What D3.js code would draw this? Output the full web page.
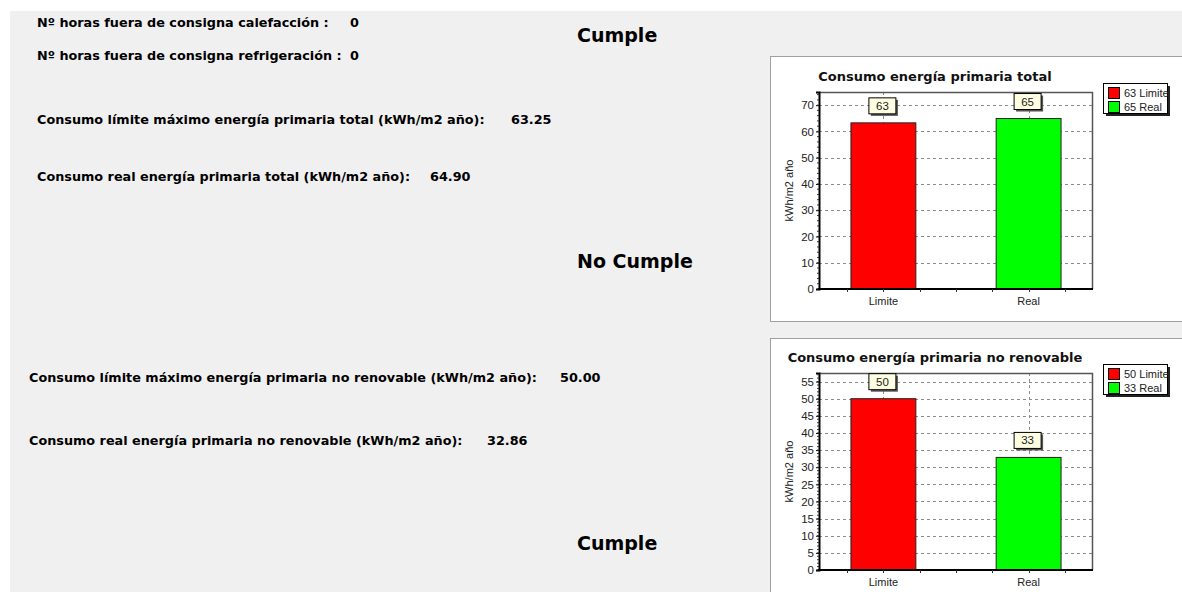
<!DOCTYPE html>
<html>
<head>
<meta charset="utf-8">
<script src="https://cdn.jsdelivr.net/npm/d3@7/dist/d3.min.js"></script>
<style>
  html, body { margin: 0; padding: 0; background: #ffffff; }
  svg { display: block; }
</style>
</head>
<body>
<svg id="page" width="1182" height="592"></svg>
<script>
// ---- data ----
const categories = ["Limite", "Real"];
const barColors = ["#ff0000", "#00ff00"];

const totalTitle = "Consumo energía primaria total";
const totalValues = [63.25, 64.90];
const totalTicks = [0, 10, 20, 30, 40, 50, 60, 70];
const totalMax = 75;

const noRenTitle = "Consumo energía primaria no renovable";
const noRenValues = [50.00, 32.86];
const noRenTicks = [0, 5, 10, 15, 20, 25, 30, 35, 40, 45, 50, 55];
const noRenMax = 57.5;

const hoursLabels = ["Nº horas fuera de consigna calefacción :", "Nº horas fuera de consigna refrigeración :"];
const hoursValues = ["0", "0"];
const totalLabels = ["Consumo límite máximo energía primaria total (kWh/m2 año):", "Consumo real energía primaria total (kWh/m2 año):"];
const noRenLabels = ["Consumo límite máximo energía primaria no renovable (kWh/m2 año):", "Consumo real energía primaria no renovable (kWh/m2 año):"];
const verdicts = ["Cumple", "No Cumple", "Cumple"];
const yAxisTitle = "kWh/m2 año";

// ---- page ----
const svg = d3.select("#page");
const bodyFont = "'DejaVu Sans', Verdana, sans-serif";
const chartFont = "'Liberation Sans', Arial, sans-serif";

svg.append("rect").attr("x", 10).attr("y", 11).attr("width", 1172).attr("height", 581).attr("fill", "#f0f0f0");

function infoText(x, y, str, size) {
  return svg.append("text").attr("x", x).attr("y", y)
    .attr("font-family", bodyFont).attr("font-weight", "bold")
    .attr("font-size", size || 12.8).attr("fill", "#000").text(str);
}

infoText(37, 27, hoursLabels[0]); infoText(350, 27, hoursValues[0]);
infoText(37, 60, hoursLabels[1]); infoText(350, 60, hoursValues[1]);
infoText(37, 124, totalLabels[0]); infoText(511, 124, d3.format(".2f")(totalValues[0]));
infoText(37, 181, totalLabels[1]); infoText(430, 181, d3.format(".2f")(totalValues[1]));
infoText(29, 382, noRenLabels[0]); infoText(560, 382, d3.format(".2f")(noRenValues[0]));
infoText(29, 445, noRenLabels[1]); infoText(487, 445, d3.format(".2f")(noRenValues[1]));

infoText(577, 42, verdicts[0], 19);
infoText(577, 268, verdicts[1], 19);
infoText(577, 550, verdicts[2], 19);

// ---- chart panels ----
function drawChart(opt) {
  const g = svg.append("g");
  g.append("rect").attr("x", opt.panel[0] + 0.5).attr("y", opt.panel[1] + 0.5)
    .attr("width", opt.panel[2]).attr("height", opt.panel[3])
    .attr("fill", "#ffffff").attr("stroke", "#a0a0a0").attr("stroke-width", 1);

  const L = opt.plot[0], T = opt.plot[1], R = opt.plot[2], B = opt.plot[3];
  const x = d3.scaleBand().domain(categories).range([L, R]).paddingInner(0.553).paddingOuter(0.22);
  const y = d3.scaleLinear().domain([0, opt.max]).range([B, T]);

  // title
  g.append("text").attr("x", opt.titleX).attr("y", opt.titleY).attr("text-anchor", "middle")
    .attr("font-family", bodyFont).attr("font-weight", "bold").attr("font-size", 13)
    .attr("fill", "#111").text(opt.title);

  // horizontal grid
  g.append("g").selectAll("line").data(opt.ticks.filter(d => d > 0)).join("line")
    .attr("x1", L).attr("x2", R).attr("y1", d => Math.round(y(d)) + 0.5).attr("y2", d => Math.round(y(d)) + 0.5)
    .attr("stroke", "#8c8c8c").attr("stroke-dasharray", "3,3");
  // vertical grid at categories
  g.append("g").selectAll("line").data(categories).join("line")
    .attr("x1", d => Math.round(x(d) + x.bandwidth() / 2) + 0.5).attr("x2", d => Math.round(x(d) + x.bandwidth() / 2) + 0.5)
    .attr("y1", T).attr("y2", B)
    .attr("stroke", "#8c8c8c").attr("stroke-dasharray", "3,3");

  // bars
  g.append("g").selectAll("rect").data(opt.values).join("rect")
    .attr("x", (d, i) => x(categories[i])).attr("width", x.bandwidth())
    .attr("y", d => y(d)).attr("height", d => B - y(d))
    .attr("fill", (d, i) => barColors[i]).attr("stroke", "#222").attr("stroke-width", 1);

  // frame
  g.append("line").attr("x1", L).attr("x2", R).attr("y1", T + 0.5).attr("y2", T + 0.5).attr("stroke", "#555").attr("stroke-width", 1.5);
  g.append("line").attr("x1", R - 0.5).attr("x2", R - 0.5).attr("y1", T).attr("y2", B).attr("stroke", "#555").attr("stroke-width", 1.5);

  // y axis
  const yAxis = d3.axisLeft(y).tickValues(opt.ticks).tickSize(3).tickPadding(2);
  const ya = g.append("g").attr("transform", `translate(${L},0)`).call(yAxis);
  ya.select(".domain").attr("stroke", "#000").attr("stroke-width", 2);
  ya.selectAll(".tick line").attr("stroke", "#000");
  ya.selectAll(".tick text").attr("font-family", chartFont).attr("font-size", 11.5).attr("fill", "#222");
  // minor y ticks
  const minorStep = (opt.ticks[1] - opt.ticks[0]) / 5;
  g.append("g").selectAll("line").data(d3.range(0, opt.max + 1e-9, minorStep)).join("line")
    .attr("x1", L - 2).attr("x2", L).attr("y1", d => y(d)).attr("y2", d => y(d)).attr("stroke", "#333");

  // x axis
  const xa = g.append("g").attr("transform", `translate(0,${B})`)
    .call(d3.axisBottom(x).tickSize(0).tickPadding(8));
  xa.select(".domain").remove();
  xa.selectAll(".tick text").attr("font-family", chartFont).attr("font-size", 11).attr("fill", "#222");
  g.append("line").attr("x1", L - 1).attr("x2", R).attr("y1", B).attr("y2", B).attr("stroke", "#000").attr("stroke-width", 2);
  // x minor ticks at quarter steps around category centers
  const c0 = x(categories[0]) + x.bandwidth() / 2, q = x.step() / 4;
  const xm = d3.range(-8, 12).map(k => c0 + k * q).filter(v => v > L + 2 && v < R - 2);
  g.append("g").selectAll("line").data(xm).join("line")
    .attr("x1", d => Math.round(d) + 0.5).attr("x2", d => Math.round(d) + 0.5)
    .attr("y1", B).attr("y2", B + 3).attr("stroke", "#333");

  // y axis title
  g.append("text").attr("transform", `translate(${L - 26},${(T + B) / 2}) rotate(-90)`)
    .attr("text-anchor", "middle").attr("font-family", chartFont).attr("font-size", 11)
    .attr("fill", "#222").text(yAxisTitle);

  // value label boxes
  const lab = g.append("g").selectAll("g").data(opt.values).join("g")
    .attr("transform", (d, i) => `translate(${x(categories[i]) + x.bandwidth() / 2},${y(d) - 8})`);
  lab.append("rect").attr("x", -12.5).attr("y", -15).attr("width", 27).attr("height", 16).attr("fill", "#555");
  lab.append("rect").attr("x", -14.5).attr("y", -17).attr("width", 27).attr("height", 16)
    .attr("fill", "#ffffe1").attr("stroke", "#000").attr("stroke-width", 1);
  lab.append("text").attr("x", -1).attr("y", -5).attr("text-anchor", "middle")
    .attr("font-family", chartFont).attr("font-size", 11.5).attr("fill", "#222")
    .text(d => d3.format(".0f")(d));

  // legend
  const lx = opt.legend[0], ly = opt.legend[1];
  g.append("rect").attr("x", lx + 3).attr("y", ly + 3).attr("width", 64).attr("height", 30).attr("fill", "#222");
  g.append("rect").attr("x", lx + 0.5).attr("y", ly + 0.5).attr("width", 64).attr("height", 30)
    .attr("fill", "#fff").attr("stroke", "#000");
  const le = g.append("g").selectAll("g").data(opt.values).join("g")
    .attr("transform", (d, i) => `translate(${lx + 5},${ly + 4 + i * 14})`);
  le.append("rect").attr("x", 0.5).attr("y", 0.5).attr("width", 11).attr("height", 11)
    .attr("fill", (d, i) => barColors[i]).attr("stroke", "#000");
  le.append("text").attr("x", 16).attr("y", 10).attr("font-family", chartFont).attr("font-size", 11)
    .attr("fill", "#222").text((d, i) => d3.format(".0f")(d) + " " + categories[i]);
}

drawChart({
  panel: [770, 56, 420, 265], plot: [819, 92, 1093, 289],
  max: totalMax, ticks: totalTicks, values: totalValues,
  title: totalTitle, titleX: 935, titleY: 81, legend: [1103, 83]
});
drawChart({
  panel: [770, 338, 420, 270], plot: [819, 373, 1093, 570],
  max: noRenMax, ticks: noRenTicks, values: noRenValues,
  title: noRenTitle, titleX: 935, titleY: 362, legend: [1103, 364]
});
</script>
</body>
</html>
